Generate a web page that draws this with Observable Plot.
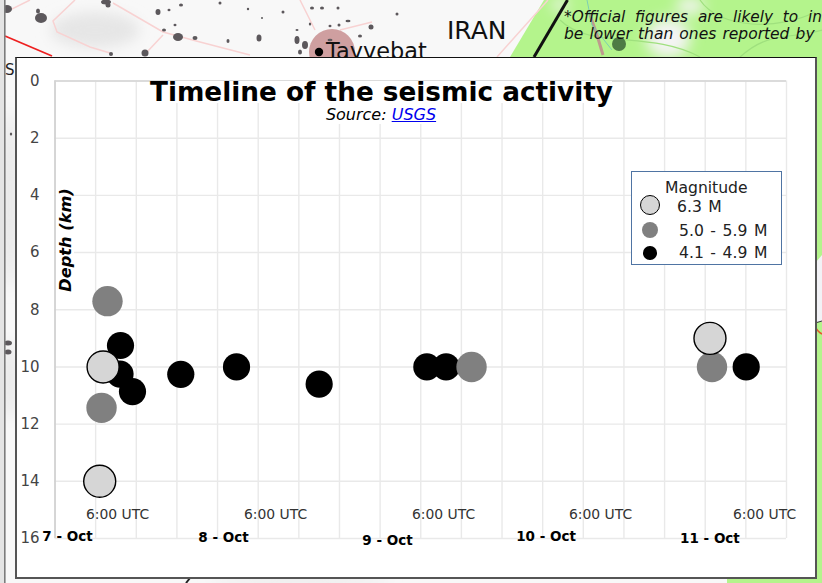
<!DOCTYPE html>
<html><head><meta charset="utf-8">
<script src="https://cdn.jsdelivr.net/npm/d3@7"></script>
<script src="https://cdn.jsdelivr.net/npm/@observablehq/plot@0.6"></script>
<style>
html,body{margin:0;padding:0;background:#f7f7f7}
#page{position:relative;width:822px;height:583px;overflow:hidden;font-family:"DejaVu Sans",sans-serif}
#page>*{position:absolute}
#map{left:0;top:0}
#card{left:15px;top:57px;width:798px;height:519px;background:#fff;border:2px solid #555;border-top:1.5px solid #111}
#chart{left:0;top:0}
#title{left:150px;top:81px;width:462px;height:22px;background:#fff;font-weight:bold;font-size:26.3px;line-height:22px;text-align:center;white-space:nowrap;color:#000}
#source{left:322px;top:103px;width:118px;height:21px;background:#fff;font-style:italic;font-size:16px;line-height:24px;text-align:center;white-space:nowrap;color:#000}
#source a{color:#0000ee}
#depth{left:56px;top:188px;width:18px;height:105px;background:#fff}
#depth span{position:absolute;left:9px;top:52px;transform:translate(-50%,-50%) rotate(-90deg);font-weight:bold;font-style:italic;font-size:16.2px;white-space:nowrap}
#legend{left:631px;top:171px;width:149px;height:92px;background:#fff;border:1.2px solid #4f74a3;font-size:15.6px;color:#222;word-spacing:1.6px}
#legend div{position:absolute;white-space:nowrap;line-height:18px}
#legend i{position:absolute;border-radius:50%;box-sizing:border-box}
</style></head>
<body>
<div id="page">
<svg id="map" width="822" height="583" viewBox="0 0 822 583">
  <defs>
    <filter id="b6"><feGaussianBlur stdDeviation="7"/></filter>
    <filter id="b1"><feGaussianBlur stdDeviation="0.6"/></filter>
  </defs>
  <rect width="822" height="583" fill="#f8f8f8"/>
  <g filter="url(#b6)" fill="#e6e6e6">
    <ellipse cx="95" cy="30" rx="45" ry="18"/>
    <ellipse cx="10" cy="200" rx="8" ry="90"/>
    <ellipse cx="10" cy="380" rx="7" ry="40"/>
    <ellipse cx="300" cy="580" rx="90" ry="4"/>
    <ellipse cx="610" cy="581" rx="60" ry="4"/>
  </g>
  <path d="M544,0 L510,57 L510,583 L727,583 L815,583 L822,583 L822,0 Z" fill="#b4f48c"/>
  <rect x="500" y="58" width="227" height="525" fill="#f8f8f8" />
  <g filter="url(#b6)" fill="#f4f4f4">
    <ellipse cx="668" cy="38" rx="22" ry="20"/>
    <ellipse cx="690" cy="6" rx="14" ry="8"/>
    <ellipse cx="560" cy="5" rx="8" ry="6"/>
  </g>
  <path d="M816,262 L822,255 L822,322 L816,322 Z" fill="#f2f2f6" filter="url(#b1)"/>
  <g fill="none" stroke="#f8d2d2" stroke-width="1.5">
    <path d="M113,3 L163,32 L200,42 L250,55"/>
    <path d="M163,35 L147,52"/>
    <path d="M75,0 L53,21 L57,32 L90,47 L110,53"/>
    <path d="M0,10 L10,10 L30,0"/>
    <path d="M300,0 L315,30 M340,30 L372,22 M548,0 L497,57"/>
  </g>
  <g fill="none" stroke="#9fe07e" stroke-width="1.2">
    <path d="M560,20 C590,50 650,30 700,57 M700,0 C720,30 780,30 815,12 M740,57 C770,30 790,40 822,30"/>
  </g>
  <path d="M590,15 L597,35 L603,55" stroke="#bf9a8e" stroke-width="3" fill="none"/>
  <ellipse cx="619" cy="44" rx="7" ry="7" fill="#4d7a44" filter="url(#b1)"/>
  <path d="M587,0 L592,25 L612,50" stroke="#7ccfb2" stroke-width="1" fill="none"/>
  <circle cx="332" cy="52" r="23" fill="#cf9fa0"/>
  <g fill="#5c585b" filter="url(#b1)">
    <ellipse cx="41" cy="18" rx="6" ry="5"/><ellipse cx="38" cy="11" rx="2" ry="2.5"/>
    <ellipse cx="7" cy="9" rx="5" ry="4"/>
    <ellipse cx="106" cy="2" rx="5" ry="2.5"/><ellipse cx="108" cy="5" rx="2.5" ry="2.5"/>
    <ellipse cx="158" cy="12" rx="2.5" ry="3"/><ellipse cx="169" cy="10" rx="1.5" ry="1.2"/>
    <ellipse cx="181" cy="5" rx="2" ry="1.5"/><ellipse cx="175" cy="25" rx="1.5" ry="1.2"/>
    <ellipse cx="164" cy="30" rx="2" ry="1.5"/><ellipse cx="178" cy="37" rx="5" ry="4"/>
    <ellipse cx="195" cy="38" rx="2.5" ry="2"/><ellipse cx="220" cy="3" rx="1.5" ry="1.5"/>
    <ellipse cx="228" cy="41" rx="1.5" ry="2"/><ellipse cx="248" cy="9" rx="1.2" ry="1.2"/>
    <ellipse cx="259" cy="38" rx="2.5" ry="3.5"/><ellipse cx="262" cy="18" rx="1" ry="1"/>
    <ellipse cx="283" cy="12" rx="1.5" ry="1.5"/><ellipse cx="312" cy="8" rx="2" ry="1.5"/>
    <ellipse cx="322" cy="8" rx="2" ry="1.5"/><ellipse cx="338" cy="8" rx="1.5" ry="1.5"/>
    <ellipse cx="297" cy="40" rx="2.5" ry="4"/><ellipse cx="305" cy="45" rx="3" ry="4"/>
    <ellipse cx="300" cy="52" rx="2" ry="2.5"/><ellipse cx="297" cy="30" rx="1.5" ry="1"/>
    <ellipse cx="310" cy="24" rx="1.2" ry="1.5"/><ellipse cx="330" cy="26" rx="1.5" ry="1.2"/>
    <ellipse cx="339" cy="25" rx="1.5" ry="1.5"/><ellipse cx="348" cy="21" rx="2.5" ry="1.2"/>
    <ellipse cx="371" cy="27" rx="2.5" ry="2.5"/><ellipse cx="397" cy="14" rx="1.5" ry="1.5"/>
    <ellipse cx="360" cy="36" rx="2" ry="1.5"/><ellipse cx="330" cy="40" rx="2.5" ry="1.2"/>
    <ellipse cx="145" cy="53" rx="3.5" ry="3.5"/><ellipse cx="111" cy="54" rx="2" ry="2"/>
    <ellipse cx="8" cy="343" rx="4" ry="2.5"/><ellipse cx="8" cy="352" rx="3.5" ry="2.5"/>
    <ellipse cx="11" cy="134" rx="1.2" ry="1.5"/>
  </g>
  <path d="M5,36 L52,56" stroke="#ee2020" stroke-width="1.8"/>
  <path d="M815,323 L822,321" stroke="#333" stroke-width="1"/>
  <path d="M815,326 C817,331 820,333 822,334" stroke="#e25a2a" stroke-width="1.6" fill="none"/>
  <path d="M186,583 L190,578" stroke="#222" stroke-width="2"/>
  <path d="M567.5,0 L534,57" stroke="#111" stroke-width="3"/>
  <rect x="0" y="0" width="4" height="583" fill="#e4e4e4"/>
  <rect x="4" y="0" width="1.6" height="583" fill="#7c7c7c"/>
  <circle cx="319" cy="52" r="4.2" fill="#000"/>
  <text x="326" y="59" font-size="22.4" fill="#111">Tayyebat</text>
  <text x="447" y="39" font-size="25" fill="#111">IRAN</text>
  <text x="5" y="75" font-size="15" fill="#222">S</text>
  <text x="564" y="22" word-spacing="5" font-size="15.3" font-style="italic" fill="#111">*Official figures are likely to in</text>
  <text x="564" y="39" word-spacing="1.2" font-size="15.5" font-style="italic" fill="#111">be lower than ones reported by</text>
</svg>
<div id="card"></div>
<div id="chart"></div>
<div id="title">Timeline of the seismic activity</div>
<div id="source">Source: <a href="#">USGS</a></div>
<div id="depth"><span>Depth (km)</span></div>
<div id="legend">
  <div style="left:33px;top:7px">Magnitude</div>
  <i style="left:8px;top:23px;width:20px;height:20px;background:#d6d6d6;border:1.4px solid #000"></i>
  <div style="left:45px;top:26px">6.3 M</div>
  <i style="left:9.5px;top:50px;width:16px;height:16px;background:#808080"></i>
  <div style="left:47px;top:50px">5.0 - 5.9 M</div>
  <i style="left:11px;top:74px;width:13.5px;height:13.5px;background:#000"></i>
  <div style="left:47px;top:72px">4.1 - 4.9 M</div>
</div>
</div>
<script>
// hours since 7 Oct 00:00, depth in km
const hoursBlack = [9.67, 9.6, 11.44, 18.57, 26.8, 39.0, 54.9, 57.75, 102.05];
const depthBlack = [9.25, 10.25, 10.86, 10.26, 10, 10.6, 10, 10, 10];
const hoursGray = [7.75, 6.87, 61.5, 97.0];
const depthGray = [7.7, 11.43, 10, 10];
const hoursLight = [7.1, 6.6, 96.7];
const depthLight = [10, 14, 9];

const depthTicks = [0, 2, 4, 6, 8, 10, 12, 14, 16];
const hourTicks = d3.range(0, 109, 6);
const timeLabel = "6:00 UTC";
const timeLabelHours = [9.23, 32.56, 57.36, 80.54, 104.76];
const timeLabelDepth = 15.16;
const dayLabels = ["7 - Oct", "8 - Oct", "9 - Oct", "10 - Oct", "11 - Oct"];
const dayLabelHours = [1.85, 24.88, 49.09, 72.5, 96.7];
const dayLabelDepth = [15.93, 15.96, 16.07, 15.93, 16.0];

const pts = (h, d) => h.map((x, i) => ({x, y: d[i]}));
const gridCol = "#e9e9e9";

const plot = Plot.plot({
  width: 822, height: 583,
  marginLeft: 54.5, marginRight: 36, marginTop: 80.5, marginBottom: 45,
  style: {background: "transparent", fontFamily: "'DejaVu Sans', sans-serif", overflow: "visible"},
  x: {domain: [0, 108], axis: null},
  y: {domain: [0, 16], reverse: true, axis: null},
  marks: [
    Plot.ruleX(hourTicks, {stroke: gridCol, strokeWidth: 1.4}),
    Plot.ruleY(depthTicks, {stroke: gridCol, strokeWidth: 1.4}),
    Plot.ruleX([0], {stroke: "#c8c8c8", strokeWidth: 1.3}),
    Plot.ruleY([0], {stroke: "#d4d4d4", strokeWidth: 1.4}),
    Plot.axisY({ticks: depthTicks, tickSize: 0, tickPadding: 15.5, label: null, fontSize: 15, color: "#444", tickFormat: d => d, anchor: "left"}),
    Plot.dot(pts(hoursBlack, depthBlack), {x: "x", y: "y", r: 13.6, fill: "#000"}),
    Plot.dot(pts(hoursGray, depthGray), {x: "x", y: "y", r: 15.2, fill: "#808080"}),
    Plot.dot(pts(hoursLight, depthLight), {x: "x", y: "y", r: 16, fill: "#d6d6d6", stroke: "#000", strokeWidth: 1.4}),
    Plot.text(timeLabelHours, {x: d => d, y: () => timeLabelDepth, text: () => timeLabel, fontSize: 13.9, fill: "#333"}),
    Plot.text(dayLabels, {x: (d, i) => dayLabelHours[i], y: (d, i) => dayLabelDepth[i], text: d => d, fontSize: 13.5, fontWeight: "bold", fill: "#000"})
  ]
});
document.getElementById("chart").appendChild(plot);
</script>
</body></html>
